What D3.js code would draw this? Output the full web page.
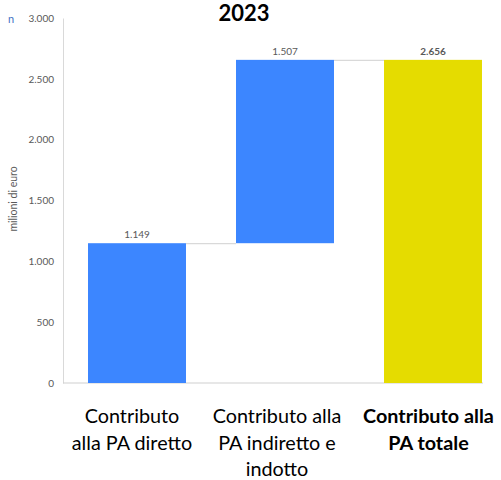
<!DOCTYPE html>
<html><head><meta charset="utf-8">
<script src="https://cdn.jsdelivr.net/npm/d3@7"></script>
<style>
html,body{margin:0;padding:0;background:#fff;overflow:hidden}
text{font-family:Lato,"Open Sans",sans-serif}
</style></head>
<body><svg id="c" width="501" height="480"></svg>
<script>
const categories = [["Contributo","alla PA diretto"],["Contributo alla","PA indiretto e","indotto"],["Contributo alla","PA totale"]];
const bases = [0, 1149, 0];
const values = [1149, 1507, 2656];
const valueLabels = ["1.149","1.507","2.656"];
const barColors = ["#3c86ff","#3c86ff","#e5dc00"];
const yTicks = [0,500,1000,1500,2000,2500,3000];
const title = "2023";
const yTitle = "milioni di euro";

const svg = d3.select("#c");
const x = d3.scaleBand().domain(d3.range(3)).range([63,507]).paddingInner(0.338).paddingOuter(0.169);
const y = d3.scaleLinear().domain([0,3000]).range([383,18]);
const fmt = v => d3.format(",")(v).replace(/,/g,".");

// axes
const ya = svg.append("g").attr("transform","translate(63,0)")
  .call(d3.axisLeft(y).tickValues(yTicks).tickSize(0).tickPadding(9).tickFormat(fmt));
ya.select(".domain").attr("stroke","#d9d9d9");
ya.selectAll("text").attr("fill","#595959").style("font-size","10px");

svg.append("line").attr("x1",63).attr("x2",483).attr("y1",y(0)).attr("y2",y(0))
  .attr("stroke","#d0d0d0").attr("stroke-width",1.2);

// bars
svg.selectAll("rect.bar").data(values).join("rect").attr("class","bar")
  .attr("x",(d,i)=>x(i)).attr("width",x.bandwidth())
  .attr("y",(d,i)=>y(bases[i]+d)).attr("height",(d,i)=>y(bases[i])-y(bases[i]+d))
  .attr("fill",(d,i)=>barColors[i]);

// connectors
for (let i=0;i<2;i++){
  const top = bases[i]+values[i];
  svg.append("line").attr("x1",x(i)+x.bandwidth()).attr("x2",x(i+1))
    .attr("y1",y(top)+0.5).attr("y2",y(top)+0.5).attr("stroke","#d9d9d9").attr("stroke-width",1.2);
}

// value labels
svg.selectAll("text.val").data(values).join("text").attr("class","val")
  .attr("x",(d,i)=>x(i)+x.bandwidth()/2).attr("y",(d,i)=>y(bases[i]+d)-5)
  .attr("text-anchor","middle").attr("fill","#595959")
  .style("font-size","10px").style("font-weight",(d,i)=>i===2?"bold":"normal")
  .text((d,i)=>valueLabels[i]);

// category labels
const labelShift = [-5,-8,-4.5];
categories.forEach((lines,i)=>{
  const t = svg.append("text").attr("text-anchor","middle")
    .attr("fill","#000").style("font-size","19.8px").style("font-weight",i===2?"bold":"normal");
  lines.forEach((l,j)=>t.append("tspan").attr("x",x(i)+x.bandwidth()/2+labelShift[i]).attr("y",423+j*26.5).text(l));
});

// title
svg.append("text").attr("x",244).attr("y",21).attr("text-anchor","middle")
  .style("font-size","22px").style("font-weight","bold").attr("fill","#000").text(title);

// y title
svg.append("text").attr("transform","translate(17,199) rotate(-90)").attr("text-anchor","middle")
  .attr("fill","#595959").style("font-size","10.5px").text(yTitle);

// stray fragment at top-left
svg.append("text").attr("x",8).attr("y",23).attr("fill","#4472c4").style("font-size","11px").text("n");
</script></body></html>
